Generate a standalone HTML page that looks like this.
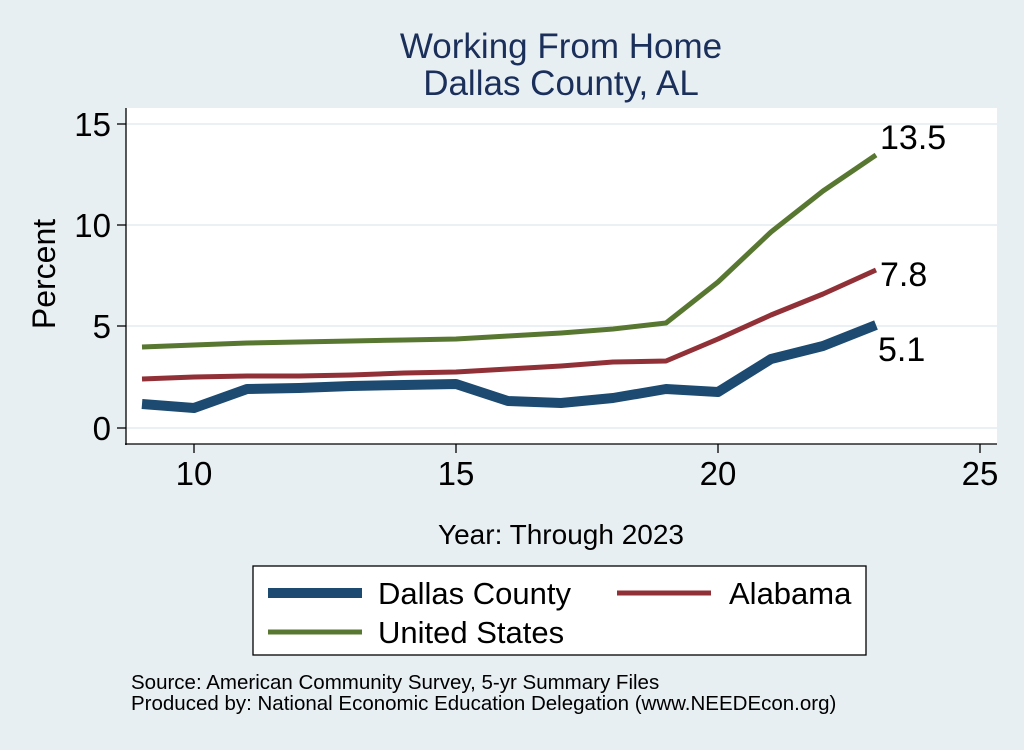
<!DOCTYPE html>
<html><head><style>body{margin:0;background:#e8eff3}</style></head><body>
<svg width="1024" height="745" xmlns="http://www.w3.org/2000/svg" font-family="Liberation Sans, sans-serif">
<rect width="1024" height="745" fill="#e8eff3"/>
<rect x="126" y="108" width="871" height="336" fill="#fff"/>
<g stroke="#eaf0f4" stroke-width="2">
<line x1="126" x2="997" y1="124" y2="124"/><line x1="126" x2="997" y1="225" y2="225"/>
<line x1="126" x2="997" y1="326" y2="326"/><line x1="126" x2="997" y1="428" y2="428"/></g>
<g stroke="#000" stroke-width="1.3">
<line x1="126" y1="108" x2="126" y2="445"/><line x1="125" y1="444" x2="997" y2="444"/>
<line x1="117" x2="126" y1="124" y2="124"/><line x1="117" x2="126" y1="225" y2="225"/>
<line x1="117" x2="126" y1="326" y2="326"/><line x1="117" x2="126" y1="428" y2="428"/>
<line x1="194" x2="194" y1="444" y2="453"/><line x1="456" x2="456" y1="444" y2="453"/>
<line x1="718" x2="718" y1="444" y2="453"/><line x1="980" x2="980" y1="444" y2="453"/></g>
<g font-size="33" text-anchor="end" fill="#000">
<text x="111" y="136">15</text><text x="111" y="237">10</text><text x="111" y="338">5</text><text x="111" y="440">0</text></g>
<g font-size="33" text-anchor="middle">
<text x="194" y="485">10</text><text x="456" y="485">15</text><text x="718" y="485">20</text><text x="980" y="485">25</text></g>
<text transform="translate(55,274) rotate(-90)" font-size="32" text-anchor="middle">Percent</text>
<text x="561" y="544" font-size="28" text-anchor="middle">Year: Through 2023</text>
<text x="561" y="58" font-size="35" fill="#1a2f5a" text-anchor="middle">Working From Home</text>
<text x="561" y="95" font-size="35" fill="#1a2f5a" text-anchor="middle">Dallas County, AL</text>
<g fill="none" stroke-linejoin="round">
<polyline stroke="#1c4a70" stroke-width="10" points="142,404 194,408 247,389 299,388 351,386 404,385 456,384 508,401 561,403 613,398 666,389 718,392 771,359 823,346 876,325"/>
<polyline stroke="#913137" stroke-width="5" points="142,379 194,377 247,376 299,376 351,375 404,373 456,372 508,369 561,366 613,362 666,361 718,339 771,315 823,294 876,270"/>
<polyline stroke="#587730" stroke-width="5" points="142,347 194,345 247,343 299,342 351,341 404,340 456,339 508,336 561,333 613,329 666,323 718,282 771,232 823,191 876,155"/>
</g>
<g font-size="34"><text x="880" y="149">13.5</text><text x="880" y="286">7.8</text><text x="878" y="361">5.1</text></g>
<rect x="253" y="566" width="613" height="89" fill="#fff" stroke="#000" stroke-width="1.3"/>
<line x1="268" x2="362" y1="593" y2="593" stroke="#1c4a70" stroke-width="10"/>
<line x1="617" x2="711" y1="593" y2="593" stroke="#913137" stroke-width="5"/>
<line x1="268" x2="362" y1="632" y2="632" stroke="#587730" stroke-width="5"/>
<g font-size="31"><text x="378" y="604">Dallas County</text><text x="729" y="604">Alabama</text><text x="378" y="643">United States</text></g>
<g font-size="20.5"><text x="131" y="689">Source: American Community Survey, 5-yr Summary Files</text>
<text x="131" y="710">Produced by: National Economic Education Delegation (www.NEEDEcon.org)</text></g>
</svg></body></html>
